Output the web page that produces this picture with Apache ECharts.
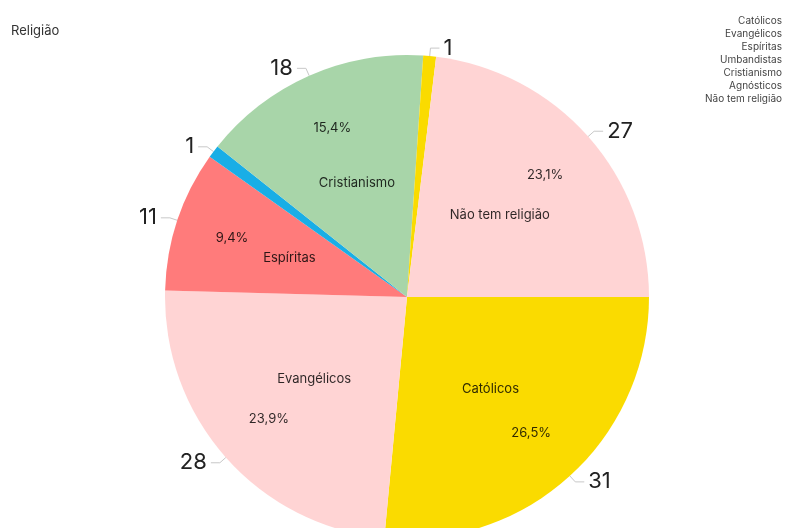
<!DOCTYPE html>
<html>
<head>
<meta charset="utf-8">
<script src="https://cdn.jsdelivr.net/npm/echarts@6/dist/echarts.min.js"></script>
<style>
  html, body { margin: 0; padding: 0; background: #fff; }
  #chart { width: 788px; height: 528px; }
</style>
</head>
<body>
<div id="chart"></div>
<script>
// Religious affiliation counts
const categories = ['Católicos', 'Evangélicos', 'Espíritas', 'Umbandistas', 'Cristianismo', 'Agnósticos', 'Não tem religião'];
const counts = [31, 28, 11, 1, 18, 1, 27];
const sliceColors = ['#FADB00', '#FFD4D4', '#FF7B7B', '#19AEE6', '#A8D5A9', '#FADB00', '#FFD4D4'];

const total = counts.reduce((a, b) => a + b, 0);
const FONT = 'Inter, "Noto Sans", sans-serif';
const CENTER = [407, 297];
const R = 242;

const pieData = categories.map((name, i) => ({
  name: name,
  value: counts[i],
  itemStyle: { color: sliceColors[i] }
}));
const ghostData = categories.map((name, i) => ({
  name: name,
  value: counts[i],
  itemStyle: { color: 'rgba(0,0,0,0)' }
}));

const fmtPct = v => (v / total * 100).toFixed(1).replace('.', ',') + '%';

const chart = echarts.init(document.getElementById('chart'), null, { renderer: 'canvas' });
chart.setOption({
  backgroundColor: '#ffffff',
  animation: false,
  title: {
    text: 'Religião',
    left: 6,
    top: 20,
    textStyle: { fontFamily: FONT, fontSize: 13, fontWeight: 'normal', color: '#333' }
  },
  legend: {
    orient: 'vertical',
    right: 1,
    top: 16,
    padding: 0,
    align: 'right',
    itemWidth: 0,
    itemHeight: 0,
    itemGap: 3,
    icon: 'none',
    data: categories,
    textStyle: { fontFamily: FONT, fontSize: 10, color: '#444' }
  },
  series: [
    {
      // visible slices with outer value labels
      type: 'pie',
      center: CENTER,
      radius: [0, R],
      startAngle: 0,
      clockwise: true,
      data: pieData,
      label: {
        position: 'outside',
        formatter: p => String(p.value),
        fontFamily: FONT,
        fontSize: 22,
        color: '#222',
        distanceToLabelLine: 4
      },
      labelLine: {
        show: true,
        length: 8,
        length2: 9,
        lineStyle: { color: '#c8c8c8', width: 1 }
      },
      emphasis: { disabled: true }
    },
    {
      // category names at half radius
      type: 'pie',
      center: CENTER,
      radius: [0, R],
      startAngle: 0,
      clockwise: true,
      silent: true,
      data: ghostData,
      label: {
        position: 'inside',
        formatter: p => (p.value > 2 ? p.name : ''),
        fontFamily: FONT,
        fontSize: 13,
        color: 'rgba(0,0,0,0.82)'
      },
      labelLine: { show: false },
      emphasis: { disabled: true }
    },
    {
      // percentages at three-quarter radius
      type: 'pie',
      center: CENTER,
      radius: [R / 2, R],
      startAngle: 0,
      clockwise: true,
      silent: true,
      data: ghostData,
      label: {
        position: 'inside',
        formatter: p => (p.value > 2 ? fmtPct(p.value) : ''),
        fontFamily: FONT,
        fontSize: 13,
        color: 'rgba(0,0,0,0.82)'
      },
      labelLine: { show: false },
      emphasis: { disabled: true }
    }
  ]
});
</script>
</body>
</html>
